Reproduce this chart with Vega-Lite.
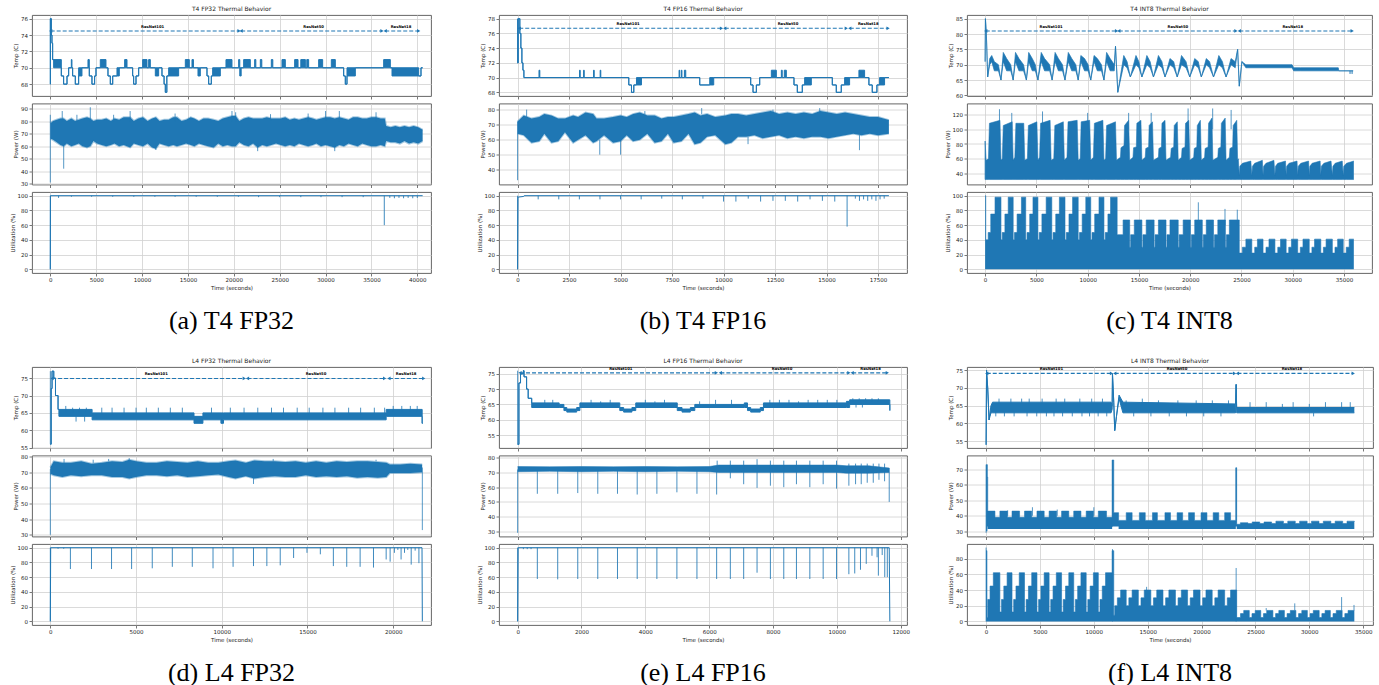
{
"$schema":"https://vega.github.io/schema/vega-lite/v6.json",
"background":"white",
"padding":{"left":9,"top":5,"right":2,"bottom":2},
"datasets":{
"aT":[{"t":0,"lo":68,"hi":68},{"t":15,"lo":76,"hi":76},{"t":110,"lo":74,"hi":74},{"t":180,"lo":73,"hi":73},{"t":254,"lo":71,"hi":71},{"t":363,"lo":70,"hi":71},{"t":1200,"lo":69,"hi":69},{"t":1450,"lo":68,"hi":68},{"t":1820,"lo":69,"hi":69},{"t":2000,"lo":70,"hi":70},{"t":2290,"lo":70,"hi":71},{"t":2360,"lo":70,"hi":70},{"t":2434,"lo":69,"hi":69},{"t":2725,"lo":68,"hi":68},{"t":3088,"lo":69,"hi":70},{"t":3450,"lo":70,"hi":70},{"t":4105,"lo":70,"hi":71},{"t":4250,"lo":69,"hi":69},{"t":4540,"lo":68,"hi":68},{"t":4830,"lo":69,"hi":69},{"t":4977,"lo":70,"hi":70},{"t":5450,"lo":70,"hi":71},{"t":6067,"lo":70,"hi":70},{"t":6285,"lo":69,"hi":69},{"t":6540,"lo":68,"hi":68},{"t":6800,"lo":69,"hi":69},{"t":7266,"lo":69,"hi":70},{"t":7520,"lo":70,"hi":70},{"t":8100,"lo":70,"hi":71},{"t":8360,"lo":70,"hi":70},{"t":8974,"lo":69,"hi":69},{"t":9083,"lo":68,"hi":68},{"t":9340,"lo":69,"hi":69},{"t":9630,"lo":70,"hi":70},{"t":10064,"lo":70,"hi":71},{"t":10537,"lo":70,"hi":70},{"t":10718,"lo":70,"hi":71},{"t":10900,"lo":70,"hi":70},{"t":11445,"lo":69,"hi":70},{"t":11808,"lo":70,"hi":70},{"t":12171,"lo":69,"hi":69},{"t":12400,"lo":68,"hi":68},{"t":12535,"lo":67,"hi":67},{"t":12700,"lo":69,"hi":69},{"t":12898,"lo":69,"hi":70},{"t":13988,"lo":70,"hi":70},{"t":14714,"lo":70,"hi":71},{"t":15150,"lo":70,"hi":70},{"t":15441,"lo":70,"hi":71},{"t":15600,"lo":70,"hi":70},{"t":16095,"lo":69,"hi":70},{"t":16349,"lo":70,"hi":70},{"t":17076,"lo":69,"hi":69},{"t":17258,"lo":68,"hi":68},{"t":17548,"lo":69,"hi":69},{"t":17693,"lo":69,"hi":70},{"t":18529,"lo":70,"hi":70},{"t":19146,"lo":70,"hi":71},{"t":19800,"lo":70,"hi":70},{"t":20527,"lo":70,"hi":71},{"t":20650,"lo":69,"hi":70},{"t":20800,"lo":70,"hi":70},{"t":21072,"lo":70,"hi":71},{"t":21798,"lo":70,"hi":70},{"t":22271,"lo":70,"hi":71},{"t":22400,"lo":70,"hi":70},{"t":22888,"lo":70,"hi":71},{"t":23050,"lo":70,"hi":70},{"t":24087,"lo":70,"hi":71},{"t":24250,"lo":70,"hi":70},{"t":25250,"lo":70,"hi":71},{"t":25613,"lo":70,"hi":70},{"t":26630,"lo":70,"hi":71},{"t":27000,"lo":70,"hi":70},{"t":27300,"lo":70,"hi":71},{"t":27800,"lo":70,"hi":70},{"t":27950,"lo":70,"hi":71},{"t":28156,"lo":70,"hi":70},{"t":29246,"lo":70,"hi":71},{"t":29682,"lo":70,"hi":70},{"t":30627,"lo":70,"hi":71},{"t":31063,"lo":70,"hi":70},{"t":31971,"lo":69,"hi":69},{"t":32153,"lo":68,"hi":68},{"t":32335,"lo":69,"hi":70},{"t":33243,"lo":70,"hi":70},{"t":36331,"lo":70,"hi":71},{"t":37058,"lo":70,"hi":70},{"t":37240,"lo":69,"hi":70},{"t":40146,"lo":69,"hi":69},{"t":40400,"lo":70,"hi":70},{"t":40582,"lo":70,"hi":70}],
"aTr":[{"t":0,"lo":68,"hi":76}],
"aA":[{"x0":40,"x1":20570,"xm":11150,"y":74.5,"lab":"ResNet101"},{"x0":20800,"x1":36150,"xm":28700,"y":74.5,"lab":"ResNet50"},{"x0":36500,"x1":40150,"xm":38220,"y":74.5,"lab":"ResNet18"}],
"aP":[{"t":0,"lo":66,"hi":78},{"t":300,"lo":65,"hi":80},{"t":700,"lo":63,"hi":81},{"t":1100,"lo":61,"hi":82},{"t":1450,"lo":60,"hi":82},{"t":1800,"lo":62,"hi":80},{"t":2300,"lo":60,"hi":82},{"t":2700,"lo":61,"hi":80},{"t":3100,"lo":62,"hi":81},{"t":3500,"lo":60,"hi":82},{"t":4000,"lo":59,"hi":83},{"t":4360,"lo":60,"hi":82},{"t":4700,"lo":64,"hi":80},{"t":5100,"lo":62,"hi":81},{"t":5600,"lo":61,"hi":81},{"t":6100,"lo":60,"hi":82},{"t":6600,"lo":61,"hi":80},{"t":7000,"lo":62,"hi":82},{"t":7500,"lo":60,"hi":81},{"t":8000,"lo":61,"hi":83},{"t":8700,"lo":59,"hi":83},{"t":9100,"lo":62,"hi":80},{"t":9600,"lo":61,"hi":82},{"t":10100,"lo":60,"hi":83},{"t":10600,"lo":62,"hi":80},{"t":11100,"lo":59,"hi":82},{"t":11500,"lo":58,"hi":83},{"t":11900,"lo":62,"hi":80},{"t":12400,"lo":61,"hi":81},{"t":12900,"lo":60,"hi":81},{"t":13400,"lo":61,"hi":83},{"t":13800,"lo":60,"hi":83},{"t":14300,"lo":61,"hi":80},{"t":14800,"lo":62,"hi":81},{"t":15300,"lo":61,"hi":83},{"t":15700,"lo":60,"hi":82},{"t":16200,"lo":62,"hi":80},{"t":16700,"lo":61,"hi":82},{"t":17200,"lo":60,"hi":82},{"t":17800,"lo":59,"hi":81},{"t":18300,"lo":62,"hi":80},{"t":18800,"lo":60,"hi":82},{"t":19300,"lo":61,"hi":83},{"t":19800,"lo":60,"hi":84},{"t":20200,"lo":60,"hi":84},{"t":20600,"lo":63,"hi":80},{"t":21100,"lo":61,"hi":82},{"t":21600,"lo":60,"hi":83},{"t":22100,"lo":62,"hi":82},{"t":22600,"lo":59,"hi":82},{"t":23100,"lo":61,"hi":82},{"t":23600,"lo":60,"hi":83},{"t":24100,"lo":61,"hi":82},{"t":24600,"lo":62,"hi":82},{"t":25100,"lo":61,"hi":82},{"t":25600,"lo":60,"hi":83},{"t":26100,"lo":61,"hi":81},{"t":26600,"lo":60,"hi":82},{"t":27100,"lo":62,"hi":81},{"t":27600,"lo":61,"hi":82},{"t":28100,"lo":60,"hi":83},{"t":28600,"lo":61,"hi":82},{"t":29000,"lo":62,"hi":81},{"t":29500,"lo":60,"hi":82},{"t":30000,"lo":61,"hi":83},{"t":30500,"lo":60,"hi":83},{"t":31000,"lo":59,"hi":82},{"t":31500,"lo":61,"hi":83},{"t":32000,"lo":60,"hi":82},{"t":32500,"lo":62,"hi":81},{"t":33000,"lo":61,"hi":83},{"t":33500,"lo":60,"hi":83},{"t":34000,"lo":62,"hi":82},{"t":34500,"lo":61,"hi":82},{"t":35000,"lo":60,"hi":83},{"t":35500,"lo":60,"hi":83},{"t":36000,"lo":61,"hi":82},{"t":36450,"lo":60,"hi":82},{"t":36600,"lo":64,"hi":76},{"t":37100,"lo":63,"hi":75},{"t":37600,"lo":63,"hi":76},{"t":38100,"lo":62,"hi":75},{"t":38600,"lo":64,"hi":76},{"t":39100,"lo":62,"hi":75},{"t":39600,"lo":63,"hi":76},{"t":40100,"lo":62,"hi":75},{"t":40580,"lo":64,"hi":73}],
"aPr":[{"t":0,"lo":31,"hi":85},{"t":1460,"lo":42,"hi":62},{"t":1300,"lo":80,"hi":88},{"t":4360,"lo":80,"hi":91},{"t":8700,"lo":80,"hi":88},{"t":19800,"lo":80,"hi":88},{"t":20200,"lo":80,"hi":87},{"t":30000,"lo":80,"hi":88},{"t":31500,"lo":80,"hi":88},{"t":11500,"lo":57,"hi":62},{"t":22600,"lo":56,"hi":62},{"t":31000,"lo":56,"hi":62},{"t":35500,"lo":80,"hi":87},{"t":28100,"lo":80,"hi":86},{"t":2900,"lo":80,"hi":85},{"t":6900,"lo":80,"hi":85},{"t":13600,"lo":80,"hi":86},{"t":24000,"lo":80,"hi":85.5}],
"aU":[{"t":0,"lo":0,"hi":0},{"t":20,"lo":100,"hi":100},{"t":40580,"lo":100,"hi":100}],
"aUr":[{"t":0,"lo":0,"hi":100},{"t":900,"lo":97,"hi":100},{"t":2300,"lo":98.5,"hi":100},{"t":4500,"lo":98.5,"hi":100},{"t":6800,"lo":98.5,"hi":100},{"t":9100,"lo":98.5,"hi":100},{"t":11400,"lo":98.5,"hi":100},{"t":13600,"lo":98.5,"hi":100},{"t":15900,"lo":98.5,"hi":100},{"t":18200,"lo":98.5,"hi":100},{"t":20500,"lo":98.5,"hi":100},{"t":22700,"lo":98,"hi":100},{"t":25000,"lo":98,"hi":100},{"t":27300,"lo":98,"hi":100},{"t":29500,"lo":98,"hi":100},{"t":31800,"lo":98,"hi":100},{"t":34100,"lo":98,"hi":100},{"t":36400,"lo":60,"hi":100},{"t":37000,"lo":97,"hi":100},{"t":37500,"lo":96.5,"hi":100},{"t":38000,"lo":97,"hi":100},{"t":38500,"lo":96.5,"hi":100},{"t":39000,"lo":97,"hi":100},{"t":39500,"lo":96.5,"hi":100},{"t":40000,"lo":97,"hi":100}],
"bT":[{"t":0,"lo":72,"hi":72},{"t":30,"lo":78,"hi":78},{"t":110,"lo":76,"hi":76},{"t":160,"lo":74,"hi":74},{"t":210,"lo":72,"hi":72},{"t":260,"lo":71,"hi":71},{"t":307,"lo":70,"hi":70},{"t":1040,"lo":70,"hi":71},{"t":1080,"lo":70,"hi":70},{"t":3010,"lo":70,"hi":71},{"t":3040,"lo":70,"hi":70},{"t":3205,"lo":70,"hi":71},{"t":3235,"lo":70,"hi":70},{"t":3690,"lo":70,"hi":71},{"t":3720,"lo":70,"hi":70},{"t":4010,"lo":70,"hi":71},{"t":4040,"lo":70,"hi":70},{"t":5400,"lo":69,"hi":69},{"t":5530,"lo":68,"hi":68},{"t":5643,"lo":69,"hi":69},{"t":5773,"lo":69,"hi":70},{"t":6015,"lo":70,"hi":70},{"t":7842,"lo":70,"hi":71},{"t":7870,"lo":70,"hi":70},{"t":7950,"lo":70,"hi":71},{"t":7980,"lo":70,"hi":70},{"t":8100,"lo":70,"hi":71},{"t":8166,"lo":70,"hi":70},{"t":8845,"lo":69,"hi":69},{"t":9330,"lo":69,"hi":70},{"t":9524,"lo":70,"hi":70},{"t":11319,"lo":69,"hi":69},{"t":11432,"lo":68,"hi":68},{"t":11594,"lo":69,"hi":69},{"t":11756,"lo":70,"hi":70},{"t":12322,"lo":70,"hi":71},{"t":12564,"lo":70,"hi":70},{"t":12807,"lo":70,"hi":71},{"t":12850,"lo":70,"hi":70},{"t":12950,"lo":70,"hi":71},{"t":13049,"lo":70,"hi":70},{"t":13421,"lo":69,"hi":69},{"t":13583,"lo":68,"hi":68},{"t":13825,"lo":69,"hi":69},{"t":13938,"lo":69,"hi":70},{"t":14262,"lo":70,"hi":70},{"t":15281,"lo":69,"hi":69},{"t":15475,"lo":68,"hi":68},{"t":15717,"lo":69,"hi":69},{"t":15879,"lo":69,"hi":70},{"t":16121,"lo":70,"hi":70},{"t":16574,"lo":70,"hi":71},{"t":16849,"lo":70,"hi":70},{"t":17059,"lo":69,"hi":69},{"t":17221,"lo":68,"hi":68},{"t":17447,"lo":69,"hi":69},{"t":17576,"lo":69,"hi":70},{"t":17819,"lo":70,"hi":70},{"t":18029,"lo":70,"hi":70}],
"bTr":[{"t":0,"lo":72,"hi":78}],
"bA":[{"x0":80,"x1":9900,"xm":5368,"y":76.7,"lab":"ResNet101"},{"x0":10060,"x1":15960,"xm":13130,"y":76.7,"lab":"ResNet50"},{"x0":16130,"x1":17990,"xm":17027,"y":76.7,"lab":"ResNet18"}],
"bP":[{"t":0,"lo":64,"hi":72},{"t":300,"lo":63,"hi":76},{"t":680,"lo":58,"hi":74},{"t":1050,"lo":59,"hi":75},{"t":1300,"lo":64,"hi":77},{"t":1650,"lo":58,"hi":76},{"t":1970,"lo":59,"hi":74},{"t":2300,"lo":65,"hi":74},{"t":2700,"lo":58,"hi":76},{"t":2940,"lo":60,"hi":75},{"t":3300,"lo":63,"hi":78},{"t":3670,"lo":58,"hi":77},{"t":3830,"lo":59,"hi":74},{"t":4200,"lo":63,"hi":74},{"t":4640,"lo":58,"hi":75},{"t":5000,"lo":59,"hi":76},{"t":5300,"lo":63,"hi":75},{"t":5610,"lo":59,"hi":77},{"t":5935,"lo":60,"hi":78},{"t":6300,"lo":64,"hi":76},{"t":6660,"lo":58,"hi":76},{"t":6985,"lo":59,"hi":74},{"t":7300,"lo":64,"hi":75},{"t":7580,"lo":58,"hi":75},{"t":7955,"lo":59,"hi":76},{"t":8300,"lo":64,"hi":77},{"t":8600,"lo":57,"hi":78},{"t":8880,"lo":58,"hi":76},{"t":9200,"lo":62,"hi":77},{"t":9600,"lo":63,"hi":75},{"t":10090,"lo":57,"hi":76},{"t":10380,"lo":58,"hi":77},{"t":10700,"lo":62,"hi":77},{"t":11100,"lo":62,"hi":76},{"t":11500,"lo":63,"hi":77},{"t":11900,"lo":61,"hi":78},{"t":12300,"lo":62,"hi":79},{"t":12700,"lo":63,"hi":77},{"t":13100,"lo":61,"hi":78},{"t":13500,"lo":62,"hi":77},{"t":13900,"lo":61,"hi":78},{"t":14300,"lo":62,"hi":77},{"t":14700,"lo":62,"hi":79},{"t":15100,"lo":61,"hi":78},{"t":15500,"lo":62,"hi":77},{"t":15900,"lo":63,"hi":78},{"t":16300,"lo":64,"hi":77},{"t":16700,"lo":63,"hi":76},{"t":17100,"lo":64,"hi":75},{"t":17500,"lo":63,"hi":75},{"t":18029,"lo":64,"hi":73}],
"bPr":[{"t":0,"lo":33,"hi":72},{"t":3990,"lo":50,"hi":60},{"t":5000,"lo":50,"hi":60},{"t":11190,"lo":57,"hi":62},{"t":16600,"lo":53,"hi":63},{"t":440,"lo":75,"hi":80},{"t":8940,"lo":77,"hi":81},{"t":14670,"lo":78,"hi":81},{"t":12400,"lo":78,"hi":80},{"t":6180,"lo":76,"hi":79}],
"bU":[{"t":0,"lo":0,"hi":0},{"t":20,"lo":98,"hi":98},{"t":300,"lo":99,"hi":99},{"t":320,"lo":100,"hi":100},{"t":18030,"lo":100,"hi":100}],
"bUr":[{"t":0,"lo":0,"hi":100},{"t":1000,"lo":95,"hi":100},{"t":2000,"lo":95,"hi":100},{"t":3000,"lo":95,"hi":100},{"t":4000,"lo":95,"hi":100},{"t":5000,"lo":95,"hi":100},{"t":6000,"lo":95,"hi":100},{"t":7000,"lo":96,"hi":100},{"t":8000,"lo":95,"hi":100},{"t":9000,"lo":96,"hi":100},{"t":10000,"lo":92,"hi":100},{"t":10600,"lo":92,"hi":100},{"t":11200,"lo":96,"hi":100},{"t":11800,"lo":92,"hi":100},{"t":12400,"lo":93,"hi":100},{"t":13000,"lo":93,"hi":100},{"t":13600,"lo":92,"hi":100},{"t":14200,"lo":95,"hi":100},{"t":14800,"lo":93,"hi":100},{"t":15400,"lo":92,"hi":100},{"t":16000,"lo":58,"hi":100},{"t":16400,"lo":96,"hi":100},{"t":16600,"lo":93,"hi":100},{"t":16800,"lo":95,"hi":100},{"t":17000,"lo":93,"hi":100},{"t":17200,"lo":95,"hi":100},{"t":17400,"lo":93,"hi":100},{"t":17600,"lo":95,"hi":100},{"t":17800,"lo":96,"hi":100}],
"cT":[{"t":0,"lo":71,"hi":71},{"t":30,"lo":85,"hi":85},{"t":120,"lo":80,"hi":80},{"t":250,"lo":66,"hi":66},{"t":450,"lo":70,"hi":72},{"t":644,"lo":71,"hi":73},{"t":900,"lo":68,"hi":71},{"t":1300,"lo":68,"hi":70},{"t":1546,"lo":65,"hi":65},{"t":1771,"lo":71,"hi":74},{"t":2100,"lo":68,"hi":72},{"t":2500,"lo":68,"hi":70},{"t":2737,"lo":65,"hi":65},{"t":2962,"lo":71,"hi":74},{"t":3300,"lo":68,"hi":72},{"t":3750,"lo":68,"hi":70},{"t":4025,"lo":65,"hi":65},{"t":4250,"lo":71,"hi":74},{"t":4600,"lo":68,"hi":72},{"t":4900,"lo":68,"hi":70},{"t":5152,"lo":65,"hi":65},{"t":5474,"lo":71,"hi":74},{"t":5800,"lo":68,"hi":72},{"t":6300,"lo":68,"hi":70},{"t":6537,"lo":65,"hi":65},{"t":6826,"lo":71,"hi":74},{"t":7150,"lo":68,"hi":72},{"t":7550,"lo":68,"hi":70},{"t":7792,"lo":65,"hi":65},{"t":8114,"lo":71,"hi":74},{"t":8450,"lo":68,"hi":72},{"t":8850,"lo":68,"hi":70},{"t":9080,"lo":65,"hi":65},{"t":9338,"lo":71,"hi":73},{"t":9700,"lo":68,"hi":72},{"t":10050,"lo":68,"hi":70},{"t":10304,"lo":65,"hi":65},{"t":10626,"lo":71,"hi":73},{"t":10950,"lo":68,"hi":72},{"t":11350,"lo":68,"hi":70},{"t":11592,"lo":65,"hi":65},{"t":11850,"lo":71,"hi":74},{"t":12200,"lo":68,"hi":72},{"t":12600,"lo":68,"hi":70},{"t":12719,"lo":76,"hi":76},{"t":12944,"lo":61,"hi":61},{"t":13524,"lo":70,"hi":73},{"t":13850,"lo":69,"hi":71},{"t":14168,"lo":66,"hi":66},{"t":14715,"lo":70,"hi":73},{"t":15000,"lo":69,"hi":71},{"t":15295,"lo":66,"hi":66},{"t":15778,"lo":70,"hi":73},{"t":16100,"lo":69,"hi":71},{"t":16422,"lo":66,"hi":66},{"t":16905,"lo":70,"hi":73},{"t":17250,"lo":69,"hi":71},{"t":17549,"lo":66,"hi":66},{"t":18032,"lo":70,"hi":72},{"t":18400,"lo":69,"hi":71},{"t":18740,"lo":66,"hi":66},{"t":19159,"lo":70,"hi":73},{"t":19600,"lo":69,"hi":71},{"t":19964,"lo":66,"hi":66},{"t":20447,"lo":70,"hi":72},{"t":20800,"lo":69,"hi":71},{"t":21091,"lo":66,"hi":66},{"t":21574,"lo":70,"hi":72},{"t":21900,"lo":69,"hi":71},{"t":22282,"lo":66,"hi":66},{"t":22798,"lo":70,"hi":73},{"t":23150,"lo":69,"hi":71},{"t":23506,"lo":66,"hi":66},{"t":23989,"lo":70,"hi":72},{"t":24400,"lo":69,"hi":71},{"t":24633,"lo":75,"hi":75},{"t":24794,"lo":63,"hi":63},{"t":25052,"lo":71,"hi":71},{"t":25438,"lo":69,"hi":70},{"t":29946,"lo":69,"hi":70},{"t":30100,"lo":68,"hi":69},{"t":30751,"lo":68,"hi":69},{"t":34454,"lo":68,"hi":69},{"t":34500,"lo":68,"hi":68},{"t":35903,"lo":68,"hi":68}],
"cTr":[{"t":35600,"lo":67,"hi":68},{"t":35800,"lo":67,"hi":68}],
"cA":[{"x0":60,"x1":12820,"xm":6440,"y":81,"lab":"ResNet101"},{"x0":13040,"x1":24470,"xm":18805,"y":81,"lab":"ResNet50"},{"x0":24800,"x1":35810,"xm":30010,"y":81,"lab":"ResNet18"}],
"cP":[{"t":0,"lo":32,"hi":84},{"t":100,"lo":32,"hi":58},{"t":322,"lo":32,"hi":60},{"t":420,"lo":32,"hi":108},{"t":1450,"lo":32,"hi":112},{"t":1546,"lo":32,"hi":58},{"t":1674,"lo":32,"hi":60},{"t":1770,"lo":32,"hi":105},{"t":2640,"lo":32,"hi":110},{"t":2737,"lo":32,"hi":58},{"t":2898,"lo":32,"hi":62},{"t":3000,"lo":32,"hi":108},{"t":3770,"lo":32,"hi":108},{"t":3864,"lo":32,"hi":58},{"t":4122,"lo":32,"hi":60},{"t":4220,"lo":32,"hi":105},{"t":5050,"lo":32,"hi":110},{"t":5152,"lo":32,"hi":58},{"t":5313,"lo":32,"hi":62},{"t":5410,"lo":32,"hi":108},{"t":6340,"lo":32,"hi":112},{"t":6440,"lo":32,"hi":58},{"t":6698,"lo":32,"hi":60},{"t":6800,"lo":32,"hi":105},{"t":7630,"lo":32,"hi":110},{"t":7728,"lo":32,"hi":58},{"t":7986,"lo":32,"hi":62},{"t":8090,"lo":32,"hi":110},{"t":8980,"lo":32,"hi":112},{"t":9080,"lo":32,"hi":58},{"t":9274,"lo":32,"hi":60},{"t":9370,"lo":32,"hi":110},{"t":10200,"lo":32,"hi":112},{"t":10304,"lo":32,"hi":58},{"t":10562,"lo":32,"hi":62},{"t":10660,"lo":32,"hi":108},{"t":11490,"lo":32,"hi":112},{"t":11592,"lo":32,"hi":58},{"t":11753,"lo":32,"hi":60},{"t":11850,"lo":32,"hi":105},{"t":12720,"lo":32,"hi":110},{"t":12816,"lo":32,"hi":58},{"t":13202,"lo":32,"hi":62},{"t":13250,"lo":32,"hi":75},{"t":13550,"lo":32,"hi":78},{"t":13600,"lo":32,"hi":105},{"t":14000,"lo":32,"hi":112},{"t":14104,"lo":32,"hi":58},{"t":14426,"lo":32,"hi":62},{"t":14480,"lo":32,"hi":75},{"t":14750,"lo":32,"hi":76},{"t":14800,"lo":32,"hi":108},{"t":15200,"lo":32,"hi":112},{"t":15295,"lo":32,"hi":58},{"t":15617,"lo":32,"hi":62},{"t":15670,"lo":32,"hi":74},{"t":15950,"lo":32,"hi":76},{"t":16000,"lo":32,"hi":105},{"t":16330,"lo":32,"hi":110},{"t":16422,"lo":32,"hi":58},{"t":16905,"lo":32,"hi":62},{"t":16950,"lo":32,"hi":74},{"t":17200,"lo":32,"hi":76},{"t":17250,"lo":32,"hi":108},{"t":17550,"lo":32,"hi":112},{"t":17646,"lo":32,"hi":58},{"t":18096,"lo":32,"hi":62},{"t":18150,"lo":32,"hi":74},{"t":18400,"lo":32,"hi":76},{"t":18450,"lo":32,"hi":105},{"t":18750,"lo":32,"hi":110},{"t":18837,"lo":32,"hi":58},{"t":19159,"lo":32,"hi":62},{"t":19210,"lo":32,"hi":74},{"t":19500,"lo":32,"hi":76},{"t":19550,"lo":32,"hi":108},{"t":19870,"lo":32,"hi":112},{"t":19964,"lo":32,"hi":58},{"t":20350,"lo":32,"hi":62},{"t":20400,"lo":32,"hi":74},{"t":20650,"lo":32,"hi":76},{"t":20700,"lo":32,"hi":105},{"t":21000,"lo":32,"hi":112},{"t":21091,"lo":32,"hi":58},{"t":21413,"lo":32,"hi":62},{"t":21460,"lo":32,"hi":74},{"t":21750,"lo":32,"hi":76},{"t":21800,"lo":32,"hi":108},{"t":22130,"lo":32,"hi":115},{"t":22218,"lo":32,"hi":58},{"t":22701,"lo":32,"hi":62},{"t":22750,"lo":32,"hi":74},{"t":23000,"lo":32,"hi":76},{"t":23050,"lo":32,"hi":108},{"t":23420,"lo":32,"hi":115},{"t":23506,"lo":32,"hi":58},{"t":23828,"lo":32,"hi":62},{"t":23880,"lo":32,"hi":74},{"t":24150,"lo":32,"hi":76},{"t":24200,"lo":32,"hi":105},{"t":24550,"lo":32,"hi":112},{"t":24633,"lo":32,"hi":58},{"t":24700,"lo":32,"hi":60},{"t":24794,"lo":32,"hi":38},{"t":24850,"lo":32,"hi":50},{"t":25100,"lo":32,"hi":54},{"t":25921,"lo":32,"hi":57},{"t":26018,"lo":32,"hi":38},{"t":26080,"lo":32,"hi":50},{"t":26300,"lo":32,"hi":54},{"t":27048,"lo":32,"hi":58},{"t":27112,"lo":32,"hi":38},{"t":27170,"lo":32,"hi":50},{"t":27400,"lo":32,"hi":54},{"t":28175,"lo":32,"hi":58},{"t":28272,"lo":32,"hi":38},{"t":28330,"lo":32,"hi":50},{"t":28550,"lo":32,"hi":54},{"t":29302,"lo":32,"hi":57},{"t":29366,"lo":32,"hi":38},{"t":29420,"lo":32,"hi":50},{"t":29650,"lo":32,"hi":54},{"t":30429,"lo":32,"hi":57},{"t":30493,"lo":32,"hi":38},{"t":30550,"lo":32,"hi":50},{"t":30800,"lo":32,"hi":54},{"t":31556,"lo":32,"hi":57},{"t":31620,"lo":32,"hi":38},{"t":31680,"lo":32,"hi":50},{"t":31900,"lo":32,"hi":54},{"t":32683,"lo":32,"hi":57},{"t":32747,"lo":32,"hi":38},{"t":32800,"lo":32,"hi":50},{"t":33050,"lo":32,"hi":54},{"t":33746,"lo":32,"hi":57},{"t":33874,"lo":32,"hi":38},{"t":33930,"lo":32,"hi":50},{"t":34150,"lo":32,"hi":54},{"t":34840,"lo":32,"hi":57},{"t":34937,"lo":32,"hi":38},{"t":34990,"lo":32,"hi":50},{"t":35250,"lo":32,"hi":54},{"t":35967,"lo":32,"hi":57}],
"cPr":[{"t":0,"lo":32,"hi":84},{"t":1400,"lo":100,"hi":127},{"t":2600,"lo":100,"hi":122},{"t":5600,"lo":100,"hi":124},{"t":10000,"lo":100,"hi":122},{"t":14000,"lo":100,"hi":122},{"t":16200,"lo":100,"hi":122},{"t":19800,"lo":100,"hi":128},{"t":22200,"lo":100,"hi":128},{"t":24000,"lo":100,"hi":126}],
"cU":[{"t":0,"lo":0,"hi":100},{"t":60,"lo":0,"hi":40},{"t":300,"lo":0,"hi":50},{"t":550,"lo":0,"hi":75},{"t":966,"lo":0,"hi":98},{"t":1546,"lo":0,"hi":40},{"t":1670,"lo":0,"hi":50},{"t":1930,"lo":0,"hi":75},{"t":2254,"lo":0,"hi":98},{"t":2737,"lo":0,"hi":40},{"t":2865,"lo":0,"hi":50},{"t":3120,"lo":0,"hi":75},{"t":3542,"lo":0,"hi":98},{"t":3960,"lo":0,"hi":40},{"t":4090,"lo":0,"hi":50},{"t":4350,"lo":0,"hi":75},{"t":4669,"lo":0,"hi":98},{"t":5152,"lo":0,"hi":40},{"t":5280,"lo":0,"hi":50},{"t":5540,"lo":0,"hi":75},{"t":5957,"lo":0,"hi":98},{"t":6504,"lo":0,"hi":40},{"t":6630,"lo":0,"hi":50},{"t":6890,"lo":0,"hi":75},{"t":7245,"lo":0,"hi":98},{"t":7792,"lo":0,"hi":40},{"t":7920,"lo":0,"hi":50},{"t":8180,"lo":0,"hi":75},{"t":8533,"lo":0,"hi":98},{"t":9080,"lo":0,"hi":40},{"t":9210,"lo":0,"hi":50},{"t":9470,"lo":0,"hi":75},{"t":9821,"lo":0,"hi":98},{"t":10304,"lo":0,"hi":40},{"t":10430,"lo":0,"hi":50},{"t":10690,"lo":0,"hi":75},{"t":11109,"lo":0,"hi":98},{"t":11592,"lo":0,"hi":40},{"t":11720,"lo":0,"hi":50},{"t":11980,"lo":0,"hi":75},{"t":12236,"lo":0,"hi":98},{"t":12880,"lo":0,"hi":47},{"t":13460,"lo":0,"hi":67},{"t":14104,"lo":0,"hi":30},{"t":14200,"lo":0,"hi":47},{"t":14554,"lo":0,"hi":67},{"t":15295,"lo":0,"hi":30},{"t":15390,"lo":0,"hi":47},{"t":15714,"lo":0,"hi":67},{"t":16486,"lo":0,"hi":30},{"t":16580,"lo":0,"hi":47},{"t":16905,"lo":0,"hi":67},{"t":17646,"lo":0,"hi":30},{"t":17740,"lo":0,"hi":47},{"t":18032,"lo":0,"hi":67},{"t":18837,"lo":0,"hi":30},{"t":18930,"lo":0,"hi":47},{"t":19320,"lo":0,"hi":67},{"t":20028,"lo":0,"hi":30},{"t":20120,"lo":0,"hi":47},{"t":20447,"lo":0,"hi":67},{"t":21188,"lo":0,"hi":30},{"t":21280,"lo":0,"hi":47},{"t":21574,"lo":0,"hi":67},{"t":22282,"lo":0,"hi":30},{"t":22380,"lo":0,"hi":47},{"t":22701,"lo":0,"hi":67},{"t":23442,"lo":0,"hi":30},{"t":23540,"lo":0,"hi":47},{"t":23828,"lo":0,"hi":67},{"t":24794,"lo":0,"hi":22},{"t":25100,"lo":0,"hi":30},{"t":25438,"lo":0,"hi":41},{"t":26018,"lo":0,"hi":22},{"t":26300,"lo":0,"hi":30},{"t":26565,"lo":0,"hi":41},{"t":27112,"lo":0,"hi":22},{"t":27400,"lo":0,"hi":30},{"t":27692,"lo":0,"hi":41},{"t":28272,"lo":0,"hi":22},{"t":28550,"lo":0,"hi":30},{"t":28819,"lo":0,"hi":41},{"t":29366,"lo":0,"hi":22},{"t":29620,"lo":0,"hi":30},{"t":29882,"lo":0,"hi":41},{"t":30493,"lo":0,"hi":22},{"t":30750,"lo":0,"hi":30},{"t":31009,"lo":0,"hi":41},{"t":31620,"lo":0,"hi":22},{"t":31880,"lo":0,"hi":30},{"t":32136,"lo":0,"hi":41},{"t":32747,"lo":0,"hi":22},{"t":33000,"lo":0,"hi":30},{"t":33263,"lo":0,"hi":41},{"t":33874,"lo":0,"hi":22},{"t":34130,"lo":0,"hi":30},{"t":34390,"lo":0,"hi":41},{"t":34937,"lo":0,"hi":22},{"t":35230,"lo":0,"hi":30},{"t":35517,"lo":0,"hi":41},{"t":35967,"lo":0,"hi":41}],
"cUr":[{"t":20800,"lo":60,"hi":91},{"t":23400,"lo":60,"hi":82},{"t":24600,"lo":60,"hi":81}],
"dT":[{"t":0,"lo":56,"hi":56},{"t":50,"lo":72,"hi":72},{"t":100,"lo":77,"hi":77},{"t":200,"lo":75,"hi":75},{"t":300,"lo":70,"hi":70},{"t":450,"lo":66,"hi":66},{"t":500,"lo":64,"hi":66},{"t":2436,"lo":63,"hi":65},{"t":8380,"lo":62,"hi":64},{"t":8900,"lo":63,"hi":65},{"t":9960,"lo":62,"hi":65},{"t":10100,"lo":63,"hi":65},{"t":19590,"lo":64,"hi":66},{"t":21690,"lo":62,"hi":62},{"t":21720,"lo":62,"hi":62}],
"dTr":[{"t":900,"lo":65,"hi":67},{"t":1300,"lo":65,"hi":66.5},{"t":1700,"lo":65,"hi":66.5},{"t":2100,"lo":65,"hi":66.5},{"t":3000,"lo":64.5,"hi":66.5},{"t":3600,"lo":64.5,"hi":66.5},{"t":4300,"lo":64.5,"hi":66.5},{"t":5000,"lo":64.5,"hi":66.5},{"t":5600,"lo":64.5,"hi":66.5},{"t":6300,"lo":64.5,"hi":66.5},{"t":7000,"lo":64.5,"hi":66.5},{"t":7700,"lo":64.5,"hi":66.5},{"t":9400,"lo":64.5,"hi":66.5},{"t":10500,"lo":64.5,"hi":66.5},{"t":11300,"lo":64.5,"hi":66.5},{"t":12100,"lo":64.5,"hi":66.5},{"t":12900,"lo":64.5,"hi":66.5},{"t":13600,"lo":64.5,"hi":66.5},{"t":14400,"lo":64.5,"hi":66.5},{"t":15100,"lo":64.5,"hi":66.5},{"t":15900,"lo":64.5,"hi":66.5},{"t":16600,"lo":64.5,"hi":66.5},{"t":17400,"lo":64.5,"hi":66.5},{"t":18100,"lo":64.5,"hi":66.5},{"t":18900,"lo":64.5,"hi":66.5},{"t":19500,"lo":64.5,"hi":66.5},{"t":20000,"lo":65.5,"hi":67},{"t":20500,"lo":65.5,"hi":67},{"t":21000,"lo":65.5,"hi":67},{"t":21400,"lo":65.5,"hi":67},{"t":1500,"lo":62.5,"hi":64},{"t":2000,"lo":62.5,"hi":64},{"t":9960,"lo":62,"hi":63},{"t":0,"lo":56,"hi":77}],
"dA":[{"x0":100,"x1":11310,"xm":6178,"y":74.9,"lab":"ResNet101"},{"x0":11500,"x1":19500,"xm":15495,"y":74.9,"lab":"ResNet50"},{"x0":19750,"x1":21780,"xm":20757,"y":74.9,"lab":"ResNet18"}],
"dP":[{"t":0,"lo":69,"hi":73},{"t":200,"lo":68,"hi":77},{"t":700,"lo":67,"hi":76},{"t":1200,"lo":68,"hi":76},{"t":1800,"lo":67.5,"hi":77},{"t":2400,"lo":68,"hi":75.5},{"t":3000,"lo":68,"hi":76},{"t":3600,"lo":67,"hi":77},{"t":4200,"lo":67,"hi":76.5},{"t":4600,"lo":66,"hi":78},{"t":5000,"lo":67,"hi":77},{"t":5600,"lo":68,"hi":76},{"t":6200,"lo":68,"hi":76},{"t":6800,"lo":67.5,"hi":77},{"t":7400,"lo":68,"hi":76.5},{"t":8000,"lo":67,"hi":76},{"t":8600,"lo":67.5,"hi":77},{"t":9200,"lo":68,"hi":76},{"t":9800,"lo":68.5,"hi":76},{"t":10400,"lo":67,"hi":77},{"t":10800,"lo":66,"hi":77.5},{"t":11400,"lo":67.5,"hi":76},{"t":11900,"lo":66,"hi":77.5},{"t":12500,"lo":67,"hi":77},{"t":13100,"lo":67.5,"hi":77},{"t":13700,"lo":67,"hi":76.5},{"t":14300,"lo":67,"hi":77},{"t":14900,"lo":68,"hi":76},{"t":15500,"lo":67,"hi":77},{"t":16100,"lo":67.5,"hi":76},{"t":16700,"lo":67,"hi":77},{"t":17300,"lo":67.5,"hi":76.5},{"t":17900,"lo":66.5,"hi":77},{"t":18500,"lo":67,"hi":77},{"t":19100,"lo":66.5,"hi":76.5},{"t":19600,"lo":67,"hi":76},{"t":19800,"lo":69.5,"hi":75},{"t":20400,"lo":69.5,"hi":75},{"t":21000,"lo":69.5,"hi":75.5},{"t":21690,"lo":70,"hi":75}],
"dPr":[{"t":0,"lo":30,"hi":72},{"t":21700,"lo":33,"hi":73},{"t":11850,"lo":62.5,"hi":68},{"t":4600,"lo":77,"hi":79},{"t":3400,"lo":77,"hi":78.5},{"t":13000,"lo":77,"hi":78.5},{"t":19000,"lo":77,"hi":78},{"t":800,"lo":76,"hi":78.5},{"t":2500,"lo":76,"hi":78}],
"dU":[{"t":0,"lo":0,"hi":0},{"t":20,"lo":100,"hi":100},{"t":21680,"lo":100,"hi":100},{"t":21700,"lo":0,"hi":0}],
"dUr":[{"t":0,"lo":0,"hi":100},{"t":450,"lo":98.5,"hi":100},{"t":780,"lo":98.5,"hi":100},{"t":1170,"lo":71,"hi":100},{"t":2400,"lo":71,"hi":100},{"t":3570,"lo":71,"hi":100},{"t":4740,"lo":71,"hi":100},{"t":5945,"lo":72,"hi":100},{"t":7115,"lo":74,"hi":100},{"t":8280,"lo":74,"hi":100},{"t":9490,"lo":72,"hi":100},{"t":10660,"lo":74,"hi":100},{"t":11850,"lo":75,"hi":100},{"t":12630,"lo":75,"hi":100},{"t":13410,"lo":76,"hi":100},{"t":14190,"lo":86,"hi":100},{"t":14970,"lo":93,"hi":100},{"t":15750,"lo":91,"hi":100},{"t":16510,"lo":75,"hi":100},{"t":17290,"lo":74,"hi":100},{"t":18070,"lo":74,"hi":100},{"t":18850,"lo":73,"hi":100},{"t":19590,"lo":84,"hi":100},{"t":19820,"lo":81,"hi":100},{"t":20070,"lo":93,"hi":100},{"t":20270,"lo":97,"hi":100},{"t":20460,"lo":84,"hi":100},{"t":20660,"lo":93,"hi":100},{"t":20850,"lo":97,"hi":100},{"t":21050,"lo":77,"hi":100},{"t":21280,"lo":96,"hi":100},{"t":21500,"lo":79,"hi":100}],
"eT":[{"t":0,"lo":52,"hi":52},{"t":40,"lo":72,"hi":72},{"t":90,"lo":75,"hi":75},{"t":180,"lo":76,"hi":76},{"t":200,"lo":74,"hi":74},{"t":280,"lo":70,"hi":70},{"t":330,"lo":67,"hi":67},{"t":440,"lo":64,"hi":65.5},{"t":1300,"lo":64,"hi":65},{"t":1450,"lo":63,"hi":64},{"t":1540,"lo":62.5,"hi":63.5},{"t":1850,"lo":63,"hi":64},{"t":1950,"lo":64,"hi":65.5},{"t":3050,"lo":64,"hi":65.5},{"t":3200,"lo":63,"hi":64},{"t":3320,"lo":62.5,"hi":63.5},{"t":3580,"lo":63,"hi":64},{"t":3700,"lo":64,"hi":65.5},{"t":4900,"lo":64,"hi":65.5},{"t":5000,"lo":63,"hi":64},{"t":5150,"lo":62.5,"hi":63.5},{"t":5410,"lo":63,"hi":64},{"t":5550,"lo":64,"hi":65},{"t":7100,"lo":64,"hi":65.5},{"t":7200,"lo":63,"hi":64},{"t":7300,"lo":62.5,"hi":63.5},{"t":7600,"lo":63,"hi":64},{"t":7700,"lo":64,"hi":65.5},{"t":10300,"lo":64,"hi":66},{"t":10400,"lo":65,"hi":66.5},{"t":11640,"lo":65,"hi":66.5},{"t":11660,"lo":63,"hi":63}],
"eTr":[{"t":0,"lo":52,"hi":76},{"t":850,"lo":65,"hi":66.5},{"t":1100,"lo":65,"hi":66.5},{"t":2300,"lo":65,"hi":66.5},{"t":2600,"lo":65,"hi":66},{"t":2900,"lo":65,"hi":66.5},{"t":4000,"lo":65,"hi":66.5},{"t":4300,"lo":65,"hi":66},{"t":4600,"lo":65,"hi":66.5},{"t":5700,"lo":65,"hi":66},{"t":6200,"lo":65,"hi":66.5},{"t":6700,"lo":65,"hi":66.5},{"t":7900,"lo":65,"hi":66.5},{"t":8200,"lo":65,"hi":66.5},{"t":8500,"lo":65,"hi":66.5},{"t":8800,"lo":65,"hi":66},{"t":9100,"lo":65,"hi":66.5},{"t":9400,"lo":65,"hi":66.5},{"t":9700,"lo":65,"hi":66.5},{"t":10000,"lo":65,"hi":66.5},{"t":10500,"lo":66,"hi":67},{"t":10700,"lo":66,"hi":67},{"t":10900,"lo":66,"hi":67},{"t":11100,"lo":66,"hi":67},{"t":11300,"lo":66,"hi":67},{"t":10600,"lo":64,"hi":65},{"t":10800,"lo":64,"hi":65}],
"eA":[{"x0":75,"x1":6225,"xm":3232,"y":75.3,"lab":"ResNet101"},{"x0":6350,"x1":10376,"xm":8284,"y":75.3,"lab":"ResNet50"},{"x0":10480,"x1":11580,"xm":11056,"y":75.3,"lab":"ResNet18"}],
"eP":[{"t":0,"lo":70.5,"hi":74},{"t":1000,"lo":70.8,"hi":73.8},{"t":2000,"lo":70.5,"hi":74},{"t":3000,"lo":70.8,"hi":73.8},{"t":4000,"lo":70.5,"hi":74},{"t":5000,"lo":70.8,"hi":73.8},{"t":6000,"lo":70.5,"hi":74},{"t":6300,"lo":70,"hi":75},{"t":7000,"lo":70,"hi":75},{"t":8000,"lo":70,"hi":75},{"t":9000,"lo":70,"hi":75},{"t":10000,"lo":70,"hi":75},{"t":10300,"lo":69.5,"hi":74.5},{"t":11000,"lo":69.5,"hi":74.5},{"t":11640,"lo":70,"hi":73}],
"ePr":[{"t":0,"lo":29,"hi":72},{"t":617,"lo":55.5,"hi":71},{"t":1255,"lo":55.5,"hi":71},{"t":1883,"lo":56,"hi":71},{"t":2510,"lo":55.5,"hi":71},{"t":3128,"lo":55.5,"hi":71},{"t":3745,"lo":55,"hi":71},{"t":4362,"lo":55.5,"hi":71},{"t":4989,"lo":56.5,"hi":71},{"t":5617,"lo":55.5,"hi":71},{"t":6234,"lo":55,"hi":71},{"t":6250,"lo":74,"hi":78},{"t":6663,"lo":66,"hi":78},{"t":7081,"lo":62,"hi":78},{"t":7500,"lo":59.5,"hi":79},{"t":7918,"lo":61,"hi":78},{"t":8337,"lo":60,"hi":78},{"t":8734,"lo":62,"hi":78},{"t":9153,"lo":60,"hi":78},{"t":9571,"lo":62,"hi":78},{"t":9989,"lo":59,"hi":78},{"t":10376,"lo":61,"hi":76},{"t":10586,"lo":62,"hi":76},{"t":10763,"lo":62,"hi":76},{"t":10951,"lo":63,"hi":76},{"t":11140,"lo":63,"hi":76},{"t":11318,"lo":65,"hi":76},{"t":11495,"lo":64,"hi":76},{"t":11640,"lo":50,"hi":73}],
"eU":[{"t":0,"lo":0,"hi":0},{"t":15,"lo":100,"hi":100},{"t":11640,"lo":100,"hi":100},{"t":11660,"lo":0,"hi":0}],
"eUr":[{"t":0,"lo":0,"hi":100},{"t":180,"lo":98,"hi":100},{"t":300,"lo":98,"hi":100},{"t":420,"lo":98,"hi":100},{"t":617,"lo":57.5,"hi":100},{"t":1255,"lo":57,"hi":100},{"t":1883,"lo":57.5,"hi":100},{"t":2510,"lo":57.5,"hi":100},{"t":3128,"lo":57.5,"hi":100},{"t":3745,"lo":57.5,"hi":100},{"t":4362,"lo":57.5,"hi":100},{"t":4989,"lo":57.5,"hi":100},{"t":5617,"lo":57.5,"hi":100},{"t":6234,"lo":57.5,"hi":100},{"t":6663,"lo":57.5,"hi":100},{"t":7081,"lo":57.5,"hi":100},{"t":7500,"lo":66,"hi":100},{"t":7918,"lo":57.5,"hi":100},{"t":8337,"lo":57.5,"hi":100},{"t":8734,"lo":57.5,"hi":100},{"t":9153,"lo":57.5,"hi":100},{"t":9571,"lo":57.5,"hi":100},{"t":9989,"lo":57.5,"hi":100},{"t":10376,"lo":64,"hi":100},{"t":10560,"lo":65,"hi":100},{"t":10740,"lo":70,"hi":100},{"t":10920,"lo":78,"hi":100},{"t":11100,"lo":89,"hi":100},{"t":11260,"lo":87,"hi":100},{"t":11300,"lo":62,"hi":100},{"t":11420,"lo":90,"hi":100},{"t":11500,"lo":60,"hi":100},{"t":11580,"lo":60,"hi":100}],
"fT":[{"t":0,"lo":54,"hi":54},{"t":40,"lo":75,"hi":75},{"t":150,"lo":70,"hi":70},{"t":274,"lo":61,"hi":61},{"t":450,"lo":63,"hi":65},{"t":600,"lo":63,"hi":66},{"t":11600,"lo":63,"hi":66},{"t":11700,"lo":64,"hi":65},{"t":11730,"lo":74,"hi":74},{"t":11850,"lo":66,"hi":66},{"t":11940,"lo":58,"hi":58},{"t":12100,"lo":62,"hi":62},{"t":12340,"lo":67,"hi":68},{"t":12700,"lo":63,"hi":66},{"t":23150,"lo":63,"hi":65.5},{"t":23210,"lo":71,"hi":71},{"t":23260,"lo":63,"hi":64.5},{"t":34180,"lo":63,"hi":64.5}],
"fTr":[{"t":1200,"lo":65.5,"hi":67},{"t":2300,"lo":65.5,"hi":67},{"t":3300,"lo":65.5,"hi":67},{"t":4000,"lo":65.5,"hi":67},{"t":5200,"lo":65.5,"hi":67},{"t":6500,"lo":65.5,"hi":67},{"t":7300,"lo":65.5,"hi":67},{"t":8700,"lo":65.5,"hi":67},{"t":9800,"lo":65.5,"hi":67},{"t":10800,"lo":65.5,"hi":67},{"t":900,"lo":62,"hi":63.5},{"t":1700,"lo":62,"hi":63.5},{"t":2600,"lo":62,"hi":63.5},{"t":3800,"lo":62,"hi":63.5},{"t":4700,"lo":62,"hi":63.5},{"t":5600,"lo":62,"hi":63.5},{"t":6300,"lo":62,"hi":63.5},{"t":7100,"lo":62,"hi":63.5},{"t":8000,"lo":62,"hi":63.5},{"t":8900,"lo":62,"hi":63.5},{"t":9600,"lo":62,"hi":63.5},{"t":10400,"lo":62,"hi":63.5},{"t":11200,"lo":62,"hi":63.5},{"t":13000,"lo":65,"hi":66.5},{"t":14500,"lo":65,"hi":67},{"t":16000,"lo":65,"hi":66.5},{"t":17800,"lo":65,"hi":66.5},{"t":19500,"lo":65,"hi":66.5},{"t":21000,"lo":65,"hi":66.5},{"t":22500,"lo":65,"hi":66.5},{"t":13700,"lo":62,"hi":63.5},{"t":15300,"lo":62,"hi":63.5},{"t":17000,"lo":62,"hi":63.5},{"t":18600,"lo":62,"hi":63.5},{"t":20200,"lo":62,"hi":63.5},{"t":21800,"lo":62,"hi":63.5},{"t":24500,"lo":64,"hi":66},{"t":26000,"lo":64,"hi":66},{"t":27500,"lo":64,"hi":65.5},{"t":28500,"lo":64,"hi":66},{"t":30000,"lo":64,"hi":65.5},{"t":31500,"lo":64,"hi":66},{"t":33000,"lo":64,"hi":66},{"t":33800,"lo":64,"hi":66},{"t":30400,"lo":62,"hi":63}],
"fA":[{"x0":60,"x1":11640,"xm":6062,"y":74.1,"lab":"ResNet101"},{"x0":11940,"x1":23060,"xm":17728,"y":74.1,"lab":"ResNet50"},{"x0":23330,"x1":34080,"xm":28389,"y":74.1,"lab":"ResNet18"}],
"fP":[{"t":0,"lo":30,"hi":73},{"t":120,"lo":33,"hi":65},{"t":152,"lo":31.5,"hi":43},{"t":822,"lo":31.5,"hi":39},{"t":1279,"lo":31.5,"hi":43},{"t":1980,"lo":31.5,"hi":39},{"t":2406,"lo":31.5,"hi":43},{"t":3107,"lo":31.5,"hi":39},{"t":3564,"lo":31.5,"hi":43},{"t":4234,"lo":31.5,"hi":39},{"t":4721,"lo":31.5,"hi":43},{"t":5391,"lo":31.5,"hi":39},{"t":5848,"lo":31.5,"hi":43},{"t":6549,"lo":31.5,"hi":39},{"t":7006,"lo":31.5,"hi":43},{"t":7676,"lo":31.5,"hi":39},{"t":8133,"lo":31.5,"hi":43},{"t":8803,"lo":31.5,"hi":39},{"t":9290,"lo":31.5,"hi":43},{"t":9960,"lo":31.5,"hi":39},{"t":10417,"lo":31.5,"hi":43},{"t":11179,"lo":31.5,"hi":39},{"t":11700,"lo":33,"hi":76},{"t":11850,"lo":33,"hi":42},{"t":12300,"lo":31.5,"hi":37},{"t":13006,"lo":31.5,"hi":42},{"t":13555,"lo":31.5,"hi":37},{"t":14225,"lo":31.5,"hi":42},{"t":14773,"lo":31.5,"hi":37},{"t":15443,"lo":31.5,"hi":42},{"t":15900,"lo":31.5,"hi":37},{"t":16601,"lo":31.5,"hi":42},{"t":17119,"lo":31.5,"hi":37},{"t":17728,"lo":31.5,"hi":42},{"t":18245,"lo":31.5,"hi":37},{"t":18793,"lo":31.5,"hi":42},{"t":19342,"lo":31.5,"hi":37},{"t":19951,"lo":31.5,"hi":42},{"t":20500,"lo":31.5,"hi":37},{"t":21078,"lo":31.5,"hi":42},{"t":21596,"lo":31.5,"hi":37},{"t":22144,"lo":31.5,"hi":42},{"t":22692,"lo":31.5,"hi":37},{"t":23180,"lo":33,"hi":71},{"t":23260,"lo":31.5,"hi":34.5},{"t":23600,"lo":31.5,"hi":35.5},{"t":24300,"lo":31.5,"hi":35},{"t":24700,"lo":31.5,"hi":36},{"t":25400,"lo":31.5,"hi":35},{"t":25800,"lo":31.5,"hi":36},{"t":26500,"lo":31.5,"hi":35},{"t":26900,"lo":31.5,"hi":36.5},{"t":27600,"lo":31.5,"hi":35},{"t":28000,"lo":31.5,"hi":36.5},{"t":28700,"lo":31.5,"hi":35},{"t":29100,"lo":31.5,"hi":36.5},{"t":29800,"lo":31.5,"hi":35},{"t":30200,"lo":31.5,"hi":36.5},{"t":30900,"lo":31.5,"hi":35},{"t":31300,"lo":31.5,"hi":36.5},{"t":32000,"lo":31.5,"hi":35},{"t":32400,"lo":31.5,"hi":36.5},{"t":33100,"lo":31.5,"hi":35},{"t":33500,"lo":31.5,"hi":36.5},{"t":34180,"lo":31.5,"hi":36}],
"fPr":[{"t":0,"lo":29,"hi":73},{"t":11730,"lo":33,"hi":76},{"t":23210,"lo":35,"hi":71},{"t":4300,"lo":40,"hi":45.5},{"t":6600,"lo":40,"hi":44},{"t":10000,"lo":40,"hi":45.5},{"t":2000,"lo":40,"hi":43.5}],
"fU":[{"t":0,"lo":0,"hi":90},{"t":80,"lo":0,"hi":5},{"t":152,"lo":0,"hi":28},{"t":366,"lo":0,"hi":45},{"t":670,"lo":0,"hi":62},{"t":1279,"lo":0,"hi":12},{"t":1431,"lo":0,"hi":28},{"t":1645,"lo":0,"hi":45},{"t":1949,"lo":0,"hi":62},{"t":2406,"lo":0,"hi":12},{"t":2558,"lo":0,"hi":28},{"t":2772,"lo":0,"hi":45},{"t":3076,"lo":0,"hi":62},{"t":3564,"lo":0,"hi":12},{"t":3716,"lo":0,"hi":28},{"t":3930,"lo":0,"hi":45},{"t":4234,"lo":0,"hi":62},{"t":4721,"lo":0,"hi":12},{"t":4873,"lo":0,"hi":28},{"t":5087,"lo":0,"hi":45},{"t":5391,"lo":0,"hi":62},{"t":5848,"lo":0,"hi":12},{"t":6000,"lo":0,"hi":28},{"t":6214,"lo":0,"hi":45},{"t":6518,"lo":0,"hi":62},{"t":7006,"lo":0,"hi":12},{"t":7158,"lo":0,"hi":28},{"t":7372,"lo":0,"hi":45},{"t":7676,"lo":0,"hi":62},{"t":8133,"lo":0,"hi":12},{"t":8285,"lo":0,"hi":28},{"t":8499,"lo":0,"hi":45},{"t":8803,"lo":0,"hi":62},{"t":9290,"lo":0,"hi":12},{"t":9442,"lo":0,"hi":28},{"t":9656,"lo":0,"hi":45},{"t":9960,"lo":0,"hi":62},{"t":10417,"lo":0,"hi":12},{"t":10569,"lo":0,"hi":28},{"t":10783,"lo":0,"hi":45},{"t":11087,"lo":0,"hi":62},{"t":11700,"lo":0,"hi":90},{"t":11850,"lo":0,"hi":8},{"t":11940,"lo":0,"hi":20},{"t":12184,"lo":0,"hi":30},{"t":12488,"lo":0,"hi":40},{"t":13006,"lo":0,"hi":20},{"t":13250,"lo":0,"hi":30},{"t":13554,"lo":0,"hi":40},{"t":14133,"lo":0,"hi":20},{"t":14377,"lo":0,"hi":30},{"t":14681,"lo":0,"hi":40},{"t":15291,"lo":0,"hi":20},{"t":15535,"lo":0,"hi":30},{"t":15839,"lo":0,"hi":40},{"t":16418,"lo":0,"hi":20},{"t":16662,"lo":0,"hi":30},{"t":16966,"lo":0,"hi":40},{"t":17575,"lo":0,"hi":20},{"t":17819,"lo":0,"hi":30},{"t":18123,"lo":0,"hi":40},{"t":18702,"lo":0,"hi":20},{"t":18946,"lo":0,"hi":30},{"t":19250,"lo":0,"hi":40},{"t":19860,"lo":0,"hi":20},{"t":20104,"lo":0,"hi":30},{"t":20408,"lo":0,"hi":40},{"t":20987,"lo":0,"hi":20},{"t":21231,"lo":0,"hi":30},{"t":21535,"lo":0,"hi":40},{"t":22144,"lo":0,"hi":20},{"t":22388,"lo":0,"hi":30},{"t":22692,"lo":0,"hi":40},{"t":23260,"lo":0,"hi":5},{"t":23613,"lo":0,"hi":10},{"t":23913,"lo":0,"hi":14},{"t":24429,"lo":0,"hi":5},{"t":24679,"lo":0,"hi":10},{"t":24979,"lo":0,"hi":14},{"t":25495,"lo":0,"hi":5},{"t":25745,"lo":0,"hi":10},{"t":26045,"lo":0,"hi":14},{"t":26622,"lo":0,"hi":5},{"t":26872,"lo":0,"hi":10},{"t":27172,"lo":0,"hi":14},{"t":27688,"lo":0,"hi":5},{"t":27938,"lo":0,"hi":10},{"t":28238,"lo":0,"hi":14},{"t":28754,"lo":0,"hi":5},{"t":29004,"lo":0,"hi":10},{"t":29304,"lo":0,"hi":14},{"t":29820,"lo":0,"hi":5},{"t":30070,"lo":0,"hi":10},{"t":30370,"lo":0,"hi":14},{"t":30917,"lo":0,"hi":5},{"t":31167,"lo":0,"hi":10},{"t":31467,"lo":0,"hi":14},{"t":31953,"lo":0,"hi":5},{"t":32203,"lo":0,"hi":10},{"t":32503,"lo":0,"hi":14},{"t":33049,"lo":0,"hi":5},{"t":33299,"lo":0,"hi":10},{"t":33599,"lo":0,"hi":14},{"t":34180,"lo":0,"hi":14}],
"fUr":[{"t":0,"lo":0,"hi":94},{"t":11730,"lo":0,"hi":92},{"t":23210,"lo":0,"hi":68},{"t":14900,"lo":40,"hi":44},{"t":26000,"lo":14,"hi":17},{"t":28650,"lo":14,"hi":23},{"t":33000,"lo":14,"hi":31},{"t":34150,"lo":14,"hi":21}]
},
"hconcat":[
{"vconcat":[
 {"vconcat":[
  {"width":399,"height":81,"title":"T4 FP32 Thermal Behavior",
   "encoding":{"x":{"field":"t","type":"quantitative","scale":{"domain":[-1995,41490],"nice":false,"zero":false},"axis":{"values":[0,5000,10000,15000,20000,25000,30000,35000,40000],"tickCount":50,"labels":false,"title":null}}},
   "layer":[
    {"data":{"name":"aT"},"mark":{"type":"area","interpolate":"step-after","color":"#1f77b4","opacity":1,"clip":true},"encoding":{"y":{"field":"lo","type":"quantitative","title":"Temp (C)","scale":{"domain":[66.55,76.45],"nice":false,"zero":false},"axis":{"values":[68,70,72,74,76],"tickCount":50,"format":"d"}},"y2":{"field":"hi"}}},
    {"data":{"name":"aT"},"mark":{"type":"line","interpolate":"step-after","color":"#1f77b4","strokeWidth":1,"clip":true},"encoding":{"y":{"field":"lo","type":"quantitative","title":"Temp (C)"}}},
    {"data":{"name":"aT"},"mark":{"type":"line","interpolate":"step-after","color":"#1f77b4","strokeWidth":1,"clip":true},"encoding":{"y":{"field":"hi","type":"quantitative","title":"Temp (C)"}}},
    {"data":{"name":"aTr"},"mark":{"type":"rule","color":"#1f77b4","strokeWidth":1,"clip":true},"encoding":{"y":{"field":"lo","type":"quantitative","title":"Temp (C)"},"y2":{"field":"hi"}}},
    {"data":{"name":"aA"},"mark":{"type":"rule","color":"#1f77b4","strokeWidth":1.1,"strokeDash":[4,2]},"encoding":{"x":{"field":"x0","type":"quantitative","title":null},"x2":{"field":"x1"},"y":{"field":"y","type":"quantitative","title":"Temp (C)"}}},
    {"data":{"name":"aA"},"mark":{"type":"point","shape":"triangle-left","filled":true,"size":14,"color":"#1f77b4","opacity":1},"encoding":{"x":{"field":"x0","type":"quantitative","title":null},"y":{"field":"y","type":"quantitative","title":"Temp (C)"}}},
    {"data":{"name":"aA"},"mark":{"type":"point","shape":"triangle-right","filled":true,"size":14,"color":"#1f77b4","opacity":1},"encoding":{"x":{"field":"x1","type":"quantitative","title":null},"y":{"field":"y","type":"quantitative","title":"Temp (C)"}}},
    {"data":{"name":"aA"},"mark":{"type":"text","fontSize":3.8,"fontWeight":"bold","dy":-4,"color":"#000","font":"DejaVu Sans"},"encoding":{"x":{"field":"xm","type":"quantitative","title":null},"y":{"field":"y","type":"quantitative","title":"Temp (C)"},"text":{"field":"lab"}}}
   ]},
  {"width":399,"height":81,
   "encoding":{"x":{"field":"t","type":"quantitative","scale":{"domain":[-1995,41490],"nice":false,"zero":false},"axis":{"values":[0,5000,10000,15000,20000,25000,30000,35000,40000],"tickCount":50,"labels":false,"title":null}}},
   "layer":[
    {"data":{"name":"aP"},"mark":{"type":"area","color":"#1f77b4","opacity":1,"clip":true},"encoding":{"y":{"field":"lo","type":"quantitative","title":"Power (W)","scale":{"domain":[29.4,94],"nice":false,"zero":false},"axis":{"values":[30,40,50,60,70,80,90],"tickCount":50,"format":"d"}},"y2":{"field":"hi"}}},
    {"data":{"name":"aP"},"mark":{"type":"line","color":"#1f77b4","opacity":0.4,"strokeWidth":2,"clip":true},"encoding":{"y":{"field":"lo","type":"quantitative","title":"Power (W)"}}},
    {"data":{"name":"aP"},"mark":{"type":"line","color":"#1f77b4","opacity":0.4,"strokeWidth":2,"clip":true},"encoding":{"y":{"field":"hi","type":"quantitative","title":"Power (W)"}}},
    {"data":{"name":"aPr"},"mark":{"type":"rule","color":"#1f77b4","opacity":0.75,"strokeWidth":1,"clip":true},"encoding":{"y":{"field":"lo","type":"quantitative","title":"Power (W)"},"y2":{"field":"hi"}}}
   ]},
  {"width":399,"height":81,"title":{"text":"(a) T4 FP32","orient":"bottom","font":"Liberation Serif","fontSize":26,"color":"#000","offset":17},
   "encoding":{"x":{"field":"t","type":"quantitative","scale":{"domain":[-1995,41490],"nice":false,"zero":false},"axis":{"values":[0,5000,10000,15000,20000,25000,30000,35000,40000],"tickCount":50,"format":"d","title":"Time (seconds)"}}},
   "layer":[
    {"data":{"name":"aU"},"mark":{"type":"area","color":"#1f77b4","opacity":1,"clip":true},"encoding":{"y":{"field":"lo","type":"quantitative","title":"Utilization (%)","scale":{"domain":[-5,105],"nice":false,"zero":false},"axis":{"values":[0,20,40,60,80,100],"tickCount":50,"format":"d"}},"y2":{"field":"hi"}}},
    {"data":{"name":"aU"},"mark":{"type":"line","color":"#1f77b4","strokeWidth":1,"clip":true},"encoding":{"y":{"field":"lo","type":"quantitative","title":"Utilization (%)"}}},
    {"data":{"name":"aUr"},"mark":{"type":"rule","color":"#1f77b4","opacity":0.85,"strokeWidth":1,"clip":true},"encoding":{"y":{"field":"lo","type":"quantitative","title":"Utilization (%)"},"y2":{"field":"hi"}}}
   ]}
 ],"spacing":7.5,"bounds":"flush"},
 {"vconcat":[
  {"width":399,"height":81,"title":"L4 FP32 Thermal Behavior",
   "encoding":{"x":{"field":"t","type":"quantitative","scale":{"domain":[-1070,22205],"nice":false,"zero":false},"axis":{"values":[0,5000,10000,15000,20000],"tickCount":50,"labels":false,"title":null}}},
   "layer":[
    {"data":{"name":"dT"},"mark":{"type":"area","interpolate":"step-after","color":"#1f77b4","opacity":1,"clip":true},"encoding":{"y":{"field":"lo","type":"quantitative","title":"Temp (C)","scale":{"domain":[54.9,78.2],"nice":false,"zero":false},"axis":{"values":[55,60,65,70,75],"tickCount":50,"format":"d"}},"y2":{"field":"hi"}}},
    {"data":{"name":"dT"},"mark":{"type":"line","interpolate":"step-after","color":"#1f77b4","strokeWidth":1,"clip":true},"encoding":{"y":{"field":"lo","type":"quantitative","title":"Temp (C)"}}},
    {"data":{"name":"dT"},"mark":{"type":"line","interpolate":"step-after","color":"#1f77b4","strokeWidth":1,"clip":true},"encoding":{"y":{"field":"hi","type":"quantitative","title":"Temp (C)"}}},
    {"data":{"name":"dTr"},"mark":{"type":"rule","color":"#1f77b4","strokeWidth":1,"opacity":0.8,"clip":true},"encoding":{"y":{"field":"lo","type":"quantitative","title":"Temp (C)"},"y2":{"field":"hi"}}},
    {"data":{"name":"dA"},"mark":{"type":"rule","color":"#1f77b4","strokeWidth":1.1,"strokeDash":[4,2]},"encoding":{"x":{"field":"x0","type":"quantitative","title":null},"x2":{"field":"x1"},"y":{"field":"y","type":"quantitative","title":"Temp (C)"}}},
    {"data":{"name":"dA"},"mark":{"type":"point","shape":"triangle-left","filled":true,"size":14,"color":"#1f77b4","opacity":1},"encoding":{"x":{"field":"x0","type":"quantitative","title":null},"y":{"field":"y","type":"quantitative","title":"Temp (C)"}}},
    {"data":{"name":"dA"},"mark":{"type":"point","shape":"triangle-right","filled":true,"size":14,"color":"#1f77b4","opacity":1},"encoding":{"x":{"field":"x1","type":"quantitative","title":null},"y":{"field":"y","type":"quantitative","title":"Temp (C)"}}},
    {"data":{"name":"dA"},"mark":{"type":"text","fontSize":3.8,"fontWeight":"bold","dy":-4,"color":"#000","font":"DejaVu Sans"},"encoding":{"x":{"field":"xm","type":"quantitative","title":null},"y":{"field":"y","type":"quantitative","title":"Temp (C)"},"text":{"field":"lab"}}}
   ]},
  {"width":399,"height":81,
   "encoding":{"x":{"field":"t","type":"quantitative","scale":{"domain":[-1070,22205],"nice":false,"zero":false},"axis":{"values":[0,5000,10000,15000,20000],"tickCount":50,"labels":false,"title":null}}},
   "layer":[
    {"data":{"name":"dP"},"mark":{"type":"area","color":"#1f77b4","opacity":1,"clip":true},"encoding":{"y":{"field":"lo","type":"quantitative","title":"Power (W)","scale":{"domain":[28.9,80.7],"nice":false,"zero":false},"axis":{"values":[30,40,50,60,70,80],"tickCount":50,"format":"d"}},"y2":{"field":"hi"}}},
    {"data":{"name":"dP"},"mark":{"type":"line","color":"#1f77b4","opacity":0.4,"strokeWidth":2,"clip":true},"encoding":{"y":{"field":"lo","type":"quantitative","title":"Power (W)"}}},
    {"data":{"name":"dP"},"mark":{"type":"line","color":"#1f77b4","opacity":0.4,"strokeWidth":2,"clip":true},"encoding":{"y":{"field":"hi","type":"quantitative","title":"Power (W)"}}},
    {"data":{"name":"dPr"},"mark":{"type":"rule","color":"#1f77b4","opacity":0.75,"strokeWidth":1,"clip":true},"encoding":{"y":{"field":"lo","type":"quantitative","title":"Power (W)"},"y2":{"field":"hi"}}}
   ]},
  {"width":399,"height":81,"title":{"text":"(d) L4 FP32","orient":"bottom","font":"Liberation Serif","fontSize":26,"color":"#000","offset":17},
   "encoding":{"x":{"field":"t","type":"quantitative","scale":{"domain":[-1070,22205],"nice":false,"zero":false},"axis":{"values":[0,5000,10000,15000,20000],"tickCount":50,"format":"d","title":"Time (seconds)"}}},
   "layer":[
    {"data":{"name":"dU"},"mark":{"type":"area","color":"#1f77b4","opacity":1,"clip":true},"encoding":{"y":{"field":"lo","type":"quantitative","title":"Utilization (%)","scale":{"domain":[-5,105],"nice":false,"zero":false},"axis":{"values":[0,20,40,60,80,100],"tickCount":50,"format":"d"}},"y2":{"field":"hi"}}},
    {"data":{"name":"dU"},"mark":{"type":"line","color":"#1f77b4","strokeWidth":1,"clip":true},"encoding":{"y":{"field":"lo","type":"quantitative","title":"Utilization (%)"}}},
    {"data":{"name":"dUr"},"mark":{"type":"rule","color":"#1f77b4","opacity":0.85,"strokeWidth":1,"clip":true},"encoding":{"y":{"field":"lo","type":"quantitative","title":"Utilization (%)"},"y2":{"field":"hi"}}}
   ]}
 ],"spacing":7.5,"bounds":"flush"}
],"spacing":23},
{"hconcat":[
{"vconcat":[
 {"vconcat":[
  {"width":408,"height":81,"title":"T4 FP16 Thermal Behavior",
   "encoding":{"x":{"field":"t","type":"quantitative","scale":{"domain":[-902,18908],"nice":false,"zero":false},"axis":{"values":[0,2500,5000,7500,10000,12500,15000,17500],"tickCount":50,"labels":false,"title":null}}},
   "layer":[
    {"data":{"name":"bT"},"mark":{"type":"area","interpolate":"step-after","color":"#1f77b4","opacity":1,"clip":true},"encoding":{"y":{"field":"lo","type":"quantitative","title":"Temp (C)","scale":{"domain":[67.5,78.5],"nice":false,"zero":false},"axis":{"values":[68,70,72,74,76,78],"tickCount":50,"format":"d"}},"y2":{"field":"hi"}}},
    {"data":{"name":"bT"},"mark":{"type":"line","interpolate":"step-after","color":"#1f77b4","strokeWidth":1,"clip":true},"encoding":{"y":{"field":"lo","type":"quantitative","title":"Temp (C)"}}},
    {"data":{"name":"bT"},"mark":{"type":"line","interpolate":"step-after","color":"#1f77b4","strokeWidth":1,"clip":true},"encoding":{"y":{"field":"hi","type":"quantitative","title":"Temp (C)"}}},
    {"data":{"name":"bTr"},"mark":{"type":"rule","color":"#1f77b4","strokeWidth":1,"clip":true},"encoding":{"y":{"field":"lo","type":"quantitative","title":"Temp (C)"},"y2":{"field":"hi"}}},
    {"data":{"name":"bA"},"mark":{"type":"rule","color":"#1f77b4","strokeWidth":1.1,"strokeDash":[4,2]},"encoding":{"x":{"field":"x0","type":"quantitative","title":null},"x2":{"field":"x1"},"y":{"field":"y","type":"quantitative","title":"Temp (C)"}}},
    {"data":{"name":"bA"},"mark":{"type":"point","shape":"triangle-left","filled":true,"size":14,"color":"#1f77b4","opacity":1},"encoding":{"x":{"field":"x0","type":"quantitative","title":null},"y":{"field":"y","type":"quantitative","title":"Temp (C)"}}},
    {"data":{"name":"bA"},"mark":{"type":"point","shape":"triangle-right","filled":true,"size":14,"color":"#1f77b4","opacity":1},"encoding":{"x":{"field":"x1","type":"quantitative","title":null},"y":{"field":"y","type":"quantitative","title":"Temp (C)"}}},
    {"data":{"name":"bA"},"mark":{"type":"text","fontSize":3.8,"fontWeight":"bold","dy":-4,"color":"#000","font":"DejaVu Sans"},"encoding":{"x":{"field":"xm","type":"quantitative","title":null},"y":{"field":"y","type":"quantitative","title":"Temp (C)"},"text":{"field":"lab"}}}
   ]},
  {"width":408,"height":81,
   "encoding":{"x":{"field":"t","type":"quantitative","scale":{"domain":[-902,18908],"nice":false,"zero":false},"axis":{"values":[0,2500,5000,7500,10000,12500,15000,17500],"tickCount":50,"labels":false,"title":null}}},
   "layer":[
    {"data":{"name":"bP"},"mark":{"type":"area","color":"#1f77b4","opacity":1,"clip":true},"encoding":{"y":{"field":"lo","type":"quantitative","title":"Power (W)","scale":{"domain":[30.15,84.05],"nice":false,"zero":false},"axis":{"values":[40,50,60,70,80],"tickCount":50,"format":"d"}},"y2":{"field":"hi"}}},
    {"data":{"name":"bP"},"mark":{"type":"line","color":"#1f77b4","opacity":0.4,"strokeWidth":2,"clip":true},"encoding":{"y":{"field":"lo","type":"quantitative","title":"Power (W)"}}},
    {"data":{"name":"bP"},"mark":{"type":"line","color":"#1f77b4","opacity":0.4,"strokeWidth":2,"clip":true},"encoding":{"y":{"field":"hi","type":"quantitative","title":"Power (W)"}}},
    {"data":{"name":"bPr"},"mark":{"type":"rule","color":"#1f77b4","opacity":0.75,"strokeWidth":1,"clip":true},"encoding":{"y":{"field":"lo","type":"quantitative","title":"Power (W)"},"y2":{"field":"hi"}}}
   ]},
  {"width":408,"height":81,"title":{"text":"(b) T4 FP16","orient":"bottom","font":"Liberation Serif","fontSize":26,"color":"#000","offset":17},
   "encoding":{"x":{"field":"t","type":"quantitative","scale":{"domain":[-902,18908],"nice":false,"zero":false},"axis":{"values":[0,2500,5000,7500,10000,12500,15000,17500],"tickCount":50,"format":"d","title":"Time (seconds)"}}},
   "layer":[
    {"data":{"name":"bU"},"mark":{"type":"area","color":"#1f77b4","opacity":1,"clip":true},"encoding":{"y":{"field":"lo","type":"quantitative","title":"Utilization (%)","scale":{"domain":[-5,105],"nice":false,"zero":false},"axis":{"values":[0,20,40,60,80,100],"tickCount":50,"format":"d"}},"y2":{"field":"hi"}}},
    {"data":{"name":"bU"},"mark":{"type":"line","color":"#1f77b4","strokeWidth":1,"clip":true},"encoding":{"y":{"field":"lo","type":"quantitative","title":"Utilization (%)"}}},
    {"data":{"name":"bUr"},"mark":{"type":"rule","color":"#1f77b4","opacity":0.85,"strokeWidth":1,"clip":true},"encoding":{"y":{"field":"lo","type":"quantitative","title":"Utilization (%)"},"y2":{"field":"hi"}}}
   ]}
 ],"spacing":7.5,"bounds":"flush"},
 {"vconcat":[
  {"width":408,"height":81,"title":"L4 FP16 Thermal Behavior",
   "encoding":{"x":{"field":"t","type":"quantitative","scale":{"domain":[-584,12197],"nice":false,"zero":false},"axis":{"values":[0,2000,4000,6000,8000,10000,12000],"tickCount":50,"labels":false,"title":null}}},
   "layer":[
    {"data":{"name":"eT"},"mark":{"type":"area","interpolate":"step-after","color":"#1f77b4","opacity":1,"clip":true},"encoding":{"y":{"field":"lo","type":"quantitative","title":"Temp (C)","scale":{"domain":[50.8,77.2],"nice":false,"zero":false},"axis":{"values":[55,60,65,70,75],"tickCount":50,"format":"d"}},"y2":{"field":"hi"}}},
    {"data":{"name":"eT"},"mark":{"type":"line","interpolate":"step-after","color":"#1f77b4","strokeWidth":1,"clip":true},"encoding":{"y":{"field":"lo","type":"quantitative","title":"Temp (C)"}}},
    {"data":{"name":"eT"},"mark":{"type":"line","interpolate":"step-after","color":"#1f77b4","strokeWidth":1,"clip":true},"encoding":{"y":{"field":"hi","type":"quantitative","title":"Temp (C)"}}},
    {"data":{"name":"eTr"},"mark":{"type":"rule","color":"#1f77b4","strokeWidth":1,"opacity":0.8,"clip":true},"encoding":{"y":{"field":"lo","type":"quantitative","title":"Temp (C)"},"y2":{"field":"hi"}}},
    {"data":{"name":"eA"},"mark":{"type":"rule","color":"#1f77b4","strokeWidth":1.1,"strokeDash":[4,2]},"encoding":{"x":{"field":"x0","type":"quantitative","title":null},"x2":{"field":"x1"},"y":{"field":"y","type":"quantitative","title":"Temp (C)"}}},
    {"data":{"name":"eA"},"mark":{"type":"point","shape":"triangle-left","filled":true,"size":14,"color":"#1f77b4","opacity":1},"encoding":{"x":{"field":"x0","type":"quantitative","title":null},"y":{"field":"y","type":"quantitative","title":"Temp (C)"}}},
    {"data":{"name":"eA"},"mark":{"type":"point","shape":"triangle-right","filled":true,"size":14,"color":"#1f77b4","opacity":1},"encoding":{"x":{"field":"x1","type":"quantitative","title":null},"y":{"field":"y","type":"quantitative","title":"Temp (C)"}}},
    {"data":{"name":"eA"},"mark":{"type":"text","fontSize":3.8,"fontWeight":"bold","dy":-4,"color":"#000","font":"DejaVu Sans"},"encoding":{"x":{"field":"xm","type":"quantitative","title":null},"y":{"field":"y","type":"quantitative","title":"Temp (C)"},"text":{"field":"lab"}}}
   ]},
  {"width":408,"height":81,
   "encoding":{"x":{"field":"t","type":"quantitative","scale":{"domain":[-584,12197],"nice":false,"zero":false},"axis":{"values":[0,2000,4000,6000,8000,10000,12000],"tickCount":50,"labels":false,"title":null}}},
   "layer":[
    {"data":{"name":"eP"},"mark":{"type":"area","color":"#1f77b4","opacity":1,"clip":true},"encoding":{"y":{"field":"lo","type":"quantitative","title":"Power (W)","scale":{"domain":[26.5,81.5],"nice":false,"zero":false},"axis":{"values":[30,40,50,60,70,80],"tickCount":50,"format":"d"}},"y2":{"field":"hi"}}},
    {"data":{"name":"eP"},"mark":{"type":"line","color":"#1f77b4","opacity":0.55,"strokeWidth":1,"clip":true},"encoding":{"y":{"field":"lo","type":"quantitative","title":"Power (W)"}}},
    {"data":{"name":"eP"},"mark":{"type":"line","color":"#1f77b4","opacity":0.55,"strokeWidth":1,"clip":true},"encoding":{"y":{"field":"hi","type":"quantitative","title":"Power (W)"}}},
    {"data":{"name":"ePr"},"mark":{"type":"rule","color":"#1f77b4","opacity":0.8,"strokeWidth":1,"clip":true},"encoding":{"y":{"field":"lo","type":"quantitative","title":"Power (W)"},"y2":{"field":"hi"}}}
   ]},
  {"width":408,"height":81,"title":{"text":"(e) L4 FP16","orient":"bottom","font":"Liberation Serif","fontSize":26,"color":"#000","offset":17},
   "encoding":{"x":{"field":"t","type":"quantitative","scale":{"domain":[-584,12197],"nice":false,"zero":false},"axis":{"values":[0,2000,4000,6000,8000,10000,12000],"tickCount":50,"format":"d","title":"Time (seconds)"}}},
   "layer":[
    {"data":{"name":"eU"},"mark":{"type":"area","color":"#1f77b4","opacity":1,"clip":true},"encoding":{"y":{"field":"lo","type":"quantitative","title":"Utilization (%)","scale":{"domain":[-5,105],"nice":false,"zero":false},"axis":{"values":[0,20,40,60,80,100],"tickCount":50,"format":"d"}},"y2":{"field":"hi"}}},
    {"data":{"name":"eU"},"mark":{"type":"line","color":"#1f77b4","strokeWidth":1,"clip":true},"encoding":{"y":{"field":"lo","type":"quantitative","title":"Utilization (%)"}}},
    {"data":{"name":"eUr"},"mark":{"type":"rule","color":"#1f77b4","opacity":0.85,"strokeWidth":1,"clip":true},"encoding":{"y":{"field":"lo","type":"quantitative","title":"Utilization (%)"},"y2":{"field":"hi"}}}
   ]}
 ],"spacing":7.5,"bounds":"flush"}
],"spacing":23},
{"vconcat":[
 {"vconcat":[
  {"width":405,"height":81,"title":"T4 INT8 Thermal Behavior",
   "encoding":{"x":{"field":"t","type":"quantitative","scale":{"domain":[-1768,37742],"nice":false,"zero":false},"axis":{"values":[0,5000,10000,15000,20000,25000,30000,35000],"tickCount":50,"labels":false,"title":null}}},
   "layer":[
    {"data":{"name":"cT"},"mark":{"type":"area","color":"#1f77b4","opacity":1,"clip":true},"encoding":{"y":{"field":"lo","type":"quantitative","title":"Temp (C)","scale":{"domain":[59.8,86.2],"nice":false,"zero":false},"axis":{"values":[60,65,70,75,80,85],"tickCount":50,"format":"d"}},"y2":{"field":"hi"}}},
    {"data":{"name":"cT"},"mark":{"type":"line","color":"#1f77b4","strokeWidth":1,"opacity":0.7,"clip":true},"encoding":{"y":{"field":"lo","type":"quantitative","title":"Temp (C)"}}},
    {"data":{"name":"cT"},"mark":{"type":"line","color":"#1f77b4","strokeWidth":1,"opacity":0.7,"clip":true},"encoding":{"y":{"field":"hi","type":"quantitative","title":"Temp (C)"}}},
    {"data":{"name":"cTr"},"mark":{"type":"rule","color":"#1f77b4","strokeWidth":1,"clip":true},"encoding":{"y":{"field":"lo","type":"quantitative","title":"Temp (C)"},"y2":{"field":"hi"}}},
    {"data":{"name":"cA"},"mark":{"type":"rule","color":"#1f77b4","strokeWidth":1.1,"strokeDash":[4,2]},"encoding":{"x":{"field":"x0","type":"quantitative","title":null},"x2":{"field":"x1"},"y":{"field":"y","type":"quantitative","title":"Temp (C)"}}},
    {"data":{"name":"cA"},"mark":{"type":"point","shape":"triangle-left","filled":true,"size":14,"color":"#1f77b4","opacity":1},"encoding":{"x":{"field":"x0","type":"quantitative","title":null},"y":{"field":"y","type":"quantitative","title":"Temp (C)"}}},
    {"data":{"name":"cA"},"mark":{"type":"point","shape":"triangle-right","filled":true,"size":14,"color":"#1f77b4","opacity":1},"encoding":{"x":{"field":"x1","type":"quantitative","title":null},"y":{"field":"y","type":"quantitative","title":"Temp (C)"}}},
    {"data":{"name":"cA"},"mark":{"type":"text","fontSize":3.8,"fontWeight":"bold","dy":-4,"color":"#000","font":"DejaVu Sans"},"encoding":{"x":{"field":"xm","type":"quantitative","title":null},"y":{"field":"y","type":"quantitative","title":"Temp (C)"},"text":{"field":"lab"}}}
   ]},
  {"width":405,"height":81,
   "encoding":{"x":{"field":"t","type":"quantitative","scale":{"domain":[-1768,37742],"nice":false,"zero":false},"axis":{"values":[0,5000,10000,15000,20000,25000,30000,35000],"tickCount":50,"labels":false,"title":null}}},
   "layer":[
    {"data":{"name":"cP"},"mark":{"type":"area","color":"#1f77b4","opacity":1,"clip":true},"encoding":{"y":{"field":"lo","type":"quantitative","title":"Power (W)","scale":{"domain":[25.3,134.7],"nice":false,"zero":false},"axis":{"values":[40,60,80,100,120],"tickCount":50,"format":"d"}},"y2":{"field":"hi"}}},
    {"data":{"name":"cP"},"mark":{"type":"line","color":"#1f77b4","opacity":0.55,"strokeWidth":1,"clip":true},"encoding":{"y":{"field":"lo","type":"quantitative","title":"Power (W)"}}},
    {"data":{"name":"cP"},"mark":{"type":"line","color":"#1f77b4","opacity":0.55,"strokeWidth":1,"clip":true},"encoding":{"y":{"field":"hi","type":"quantitative","title":"Power (W)"}}},
    {"data":{"name":"cPr"},"mark":{"type":"rule","color":"#1f77b4","opacity":0.75,"strokeWidth":1,"clip":true},"encoding":{"y":{"field":"lo","type":"quantitative","title":"Power (W)"},"y2":{"field":"hi"}}}
   ]},
  {"width":405,"height":81,"title":{"text":"(c) T4 INT8","orient":"bottom","font":"Liberation Serif","fontSize":26,"color":"#000","offset":17},
   "encoding":{"x":{"field":"t","type":"quantitative","scale":{"domain":[-1768,37742],"nice":false,"zero":false},"axis":{"values":[0,5000,10000,15000,20000,25000,30000,35000],"tickCount":50,"format":"d","title":"Time (seconds)"}}},
   "layer":[
    {"data":{"name":"cU"},"mark":{"type":"area","interpolate":"step-after","color":"#1f77b4","opacity":1,"clip":true},"encoding":{"y":{"field":"lo","type":"quantitative","title":"Utilization (%)","scale":{"domain":[-5,105],"nice":false,"zero":false},"axis":{"values":[0,20,40,60,80,100],"tickCount":50,"format":"d"}},"y2":{"field":"hi"}}},
    {"data":{"name":"cU"},"mark":{"type":"line","interpolate":"step-after","color":"#1f77b4","opacity":0.6,"strokeWidth":1,"clip":true},"encoding":{"y":{"field":"hi","type":"quantitative","title":"Utilization (%)"}}},
    {"data":{"name":"cUr"},"mark":{"type":"rule","color":"#1f77b4","opacity":0.75,"strokeWidth":1,"clip":true},"encoding":{"y":{"field":"lo","type":"quantitative","title":"Utilization (%)"},"y2":{"field":"hi"}}}
   ]}
 ],"spacing":7.5,"bounds":"flush"},
 {"vconcat":[
  {"width":406,"height":81,"title":"L4 INT8 Thermal Behavior",
   "encoding":{"x":{"field":"t","type":"quantitative","scale":{"domain":[-1773,35913],"nice":false,"zero":false},"axis":{"values":[0,5000,10000,15000,20000,25000,30000,35000],"tickCount":50,"labels":false,"title":null}}},
   "layer":[
    {"data":{"name":"fT"},"mark":{"type":"area","color":"#1f77b4","opacity":1,"clip":true},"encoding":{"y":{"field":"lo","type":"quantitative","title":"Temp (C)","scale":{"domain":[53.1,75.9],"nice":false,"zero":false},"axis":{"values":[55,60,65,70,75],"tickCount":50,"format":"d"}},"y2":{"field":"hi"}}},
    {"data":{"name":"fT"},"mark":{"type":"line","color":"#1f77b4","strokeWidth":1,"clip":true},"encoding":{"y":{"field":"lo","type":"quantitative","title":"Temp (C)"}}},
    {"data":{"name":"fT"},"mark":{"type":"line","color":"#1f77b4","strokeWidth":1,"clip":true},"encoding":{"y":{"field":"hi","type":"quantitative","title":"Temp (C)"}}},
    {"data":{"name":"fTr"},"mark":{"type":"rule","color":"#1f77b4","strokeWidth":1,"opacity":0.8,"clip":true},"encoding":{"y":{"field":"lo","type":"quantitative","title":"Temp (C)"},"y2":{"field":"hi"}}},
    {"data":{"name":"fA"},"mark":{"type":"rule","color":"#1f77b4","strokeWidth":1.1,"strokeDash":[4,2]},"encoding":{"x":{"field":"x0","type":"quantitative","title":null},"x2":{"field":"x1"},"y":{"field":"y","type":"quantitative","title":"Temp (C)"}}},
    {"data":{"name":"fA"},"mark":{"type":"point","shape":"triangle-left","filled":true,"size":14,"color":"#1f77b4","opacity":1},"encoding":{"x":{"field":"x0","type":"quantitative","title":null},"y":{"field":"y","type":"quantitative","title":"Temp (C)"}}},
    {"data":{"name":"fA"},"mark":{"type":"point","shape":"triangle-right","filled":true,"size":14,"color":"#1f77b4","opacity":1},"encoding":{"x":{"field":"x1","type":"quantitative","title":null},"y":{"field":"y","type":"quantitative","title":"Temp (C)"}}},
    {"data":{"name":"fA"},"mark":{"type":"text","fontSize":3.8,"fontWeight":"bold","dy":-4,"color":"#000","font":"DejaVu Sans"},"encoding":{"x":{"field":"xm","type":"quantitative","title":null},"y":{"field":"y","type":"quantitative","title":"Temp (C)"},"text":{"field":"lab"}}}
   ]},
  {"width":406,"height":81,
   "encoding":{"x":{"field":"t","type":"quantitative","scale":{"domain":[-1773,35913],"nice":false,"zero":false},"axis":{"values":[0,5000,10000,15000,20000,25000,30000,35000],"tickCount":50,"labels":false,"title":null}}},
   "layer":[
    {"data":{"name":"fP"},"mark":{"type":"area","interpolate":"step-after","color":"#1f77b4","opacity":1,"clip":true},"encoding":{"y":{"field":"lo","type":"quantitative","title":"Power (W)","scale":{"domain":[26.6,78.9],"nice":false,"zero":false},"axis":{"values":[30,40,50,60,70],"tickCount":50,"format":"d"}},"y2":{"field":"hi"}}},
    {"data":{"name":"fP"},"mark":{"type":"line","interpolate":"step-after","color":"#1f77b4","opacity":0.55,"strokeWidth":1,"clip":true},"encoding":{"y":{"field":"hi","type":"quantitative","title":"Power (W)"}}},
    {"data":{"name":"fPr"},"mark":{"type":"rule","color":"#1f77b4","opacity":0.75,"strokeWidth":1,"clip":true},"encoding":{"y":{"field":"lo","type":"quantitative","title":"Power (W)"},"y2":{"field":"hi"}}}
   ]},
  {"width":406,"height":81,"title":{"text":"(f) L4 INT8","orient":"bottom","font":"Liberation Serif","fontSize":26,"color":"#000","offset":17},
   "encoding":{"x":{"field":"t","type":"quantitative","scale":{"domain":[-1773,35913],"nice":false,"zero":false},"axis":{"values":[0,5000,10000,15000,20000,25000,30000,35000],"tickCount":50,"format":"d","title":"Time (seconds)"}}},
   "layer":[
    {"data":{"name":"fU"},"mark":{"type":"area","interpolate":"step-after","color":"#1f77b4","opacity":1,"clip":true},"encoding":{"y":{"field":"lo","type":"quantitative","title":"Utilization (%)","scale":{"domain":[-4.5,98.5],"nice":false,"zero":false},"axis":{"values":[0,20,40,60,80],"tickCount":50,"format":"d"}},"y2":{"field":"hi"}}},
    {"data":{"name":"fU"},"mark":{"type":"line","interpolate":"step-after","color":"#1f77b4","opacity":0.6,"strokeWidth":1,"clip":true},"encoding":{"y":{"field":"hi","type":"quantitative","title":"Utilization (%)"}}},
    {"data":{"name":"fUr"},"mark":{"type":"rule","color":"#1f77b4","opacity":0.75,"strokeWidth":1,"clip":true},"encoding":{"y":{"field":"lo","type":"quantitative","title":"Utilization (%)"},"y2":{"field":"hi"}}}
   ]}
 ],"spacing":7.5,"bounds":"flush"}
],"spacing":23}
],"spacing":34}
],
"spacing":44,
"config":{
 "view":{"stroke":"#555","strokeWidth":0.9},
 "axis":{"labelFont":"DejaVu Sans","labelFontSize":5.5,"labelColor":"#222","labelOverlap":false,"titleFont":"DejaVu Sans","titleFontSize":5.5,"titleFontWeight":"normal","titleColor":"#222","domain":false,"tickColor":"#555","tickSize":3,"tickWidth":0.8,"gridColor":"#d0d0d0","gridWidth":0.8,"labelPadding":1.5,"titlePadding":2},
 "title":{"font":"DejaVu Sans","fontSize":6,"fontWeight":"normal","color":"#222","offset":3}
}
}
